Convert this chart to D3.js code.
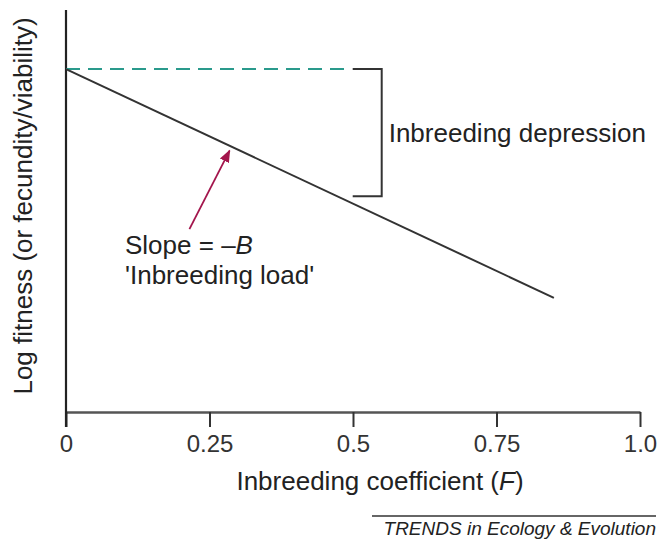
<!DOCTYPE html>
<html>
<head>
<meta charset="utf-8">
<script src="https://cdn.jsdelivr.net/npm/d3@7"></script>
<style>
body { margin: 0; background: #fff; }
text { font-family: "Liberation Sans", Arial, sans-serif; fill: #222; }
</style>
</head>
<body>
<svg id="chart" width="658" height="542"></svg>
<script>
// data
var xTicks = [0, 0.25, 0.5, 0.75, 1.0];
var xTickLabels = ["0", "0.25", "0.5", "0.75", "1.0"];
var lineF = [0, 0.85];
var lineFit = [0.853, 0.284];
var baseFit = 0.853;          // outbred fitness (dashed line)
var dashEndF = 0.487;
var bracketF = 0.55;
var bracketLow = 0.537;
var arrowFrom = [0.215, 0.455];
var arrowTo = [0.285, 0.65];

var svg = d3.select("#chart");
var x = d3.scaleLinear().domain([0, 1]).range([66, 640]);
var y = d3.scaleLinear().domain([0, 1]).range([412, 10]);

svg.append("defs").append("marker")
  .attr("id", "head")
  .attr("viewBox", "0 0 10 10")
  .attr("refX", 9).attr("refY", 5)
  .attr("markerWidth", 7).attr("markerHeight", 7)
  .attr("orient", "auto")
  .append("path").attr("d", "M0,1 L10,5 L0,9 z").style("fill", "#a3154c");

// x axis
var xAxis = d3.axisBottom(x).tickValues(xTicks)
  .tickFormat(function(d, i) { return xTickLabels[i]; })
  .tickSize(15).tickPadding(8).tickSizeOuter(0);
var gx = svg.append("g").attr("transform", "translate(0," + y(0) + ")").call(xAxis);
gx.select(".domain").style("stroke", "#555").style("stroke-width", 2.5);
gx.selectAll(".tick line").style("stroke", "#333").style("stroke-width", 2);
gx.selectAll(".tick text").style("font-size", "24px").style("fill", "#333")
  .style("font-family", "'Liberation Sans', Arial, sans-serif");

// y axis (no ticks)
svg.append("line")
  .attr("x1", x(0)).attr("x2", x(0))
  .attr("y1", y(1)).attr("y2", y(0) + 15)
  .style("stroke", "#222").style("stroke-width", 2.2);

// dashed baseline
svg.append("line")
  .attr("x1", x(0)).attr("x2", x(dashEndF))
  .attr("y1", y(baseFit)).attr("y2", y(baseFit))
  .style("stroke", "#2a9a8c").style("stroke-width", 2)
  .style("stroke-dasharray", "14,8");

// fitness line
var line = d3.line().x(function(d) { return x(d[0]); }).y(function(d) { return y(d[1]); });
svg.append("path")
  .datum(d3.zip(lineF, lineFit))
  .attr("d", line)
  .style("fill", "none").style("stroke", "#333").style("stroke-width", 2);

// bracket
var bx = x(bracketF);
svg.append("path")
  .attr("d", "M" + (bx - 29) + "," + y(baseFit) + " H" + bx + " V" + y(bracketLow) + " H" + (bx - 29))
  .style("fill", "none").style("stroke", "#333").style("stroke-width", 2);
svg.append("text").attr("x", bx + 7).attr("y", y((baseFit + bracketLow) / 2) + 9)
  .style("font-size", "26px").text("Inbreeding depression");

// arrow
svg.append("line")
  .attr("x1", x(arrowFrom[0])).attr("y1", y(arrowFrom[1]))
  .attr("x2", x(arrowTo[0])).attr("y2", y(arrowTo[1]))
  .style("stroke", "#a3154c").style("stroke-width", 1.8)
  .attr("marker-end", "url(#head)");

var lab = svg.append("text").attr("x", 125).attr("y", 254).style("font-size", "26px");
lab.append("tspan").text("Slope = \u2013");
lab.append("tspan").style("font-style", "italic").text("B");
svg.append("text").attr("x", 125).attr("y", 284).style("font-size", "26px").text("'Inbreeding load'");

// axis titles
var xt = svg.append("text").attr("x", 380).attr("y", 490).attr("text-anchor", "middle").style("font-size", "26px");
xt.append("tspan").text("Inbreeding coefficient (");
xt.append("tspan").style("font-style", "italic").text("F");
xt.append("tspan").text(")");

svg.append("text")
  .attr("transform", "translate(32,206) rotate(-90)")
  .attr("text-anchor", "middle").style("font-size", "26px")
  .text("Log fitness (or fecundity/viability)");

// source
svg.append("line").attr("x1", 372).attr("x2", 656).attr("y1", 516).attr("y2", 516)
  .style("stroke", "#333").style("stroke-width", 1.5);
svg.append("text").attr("x", 656).attr("y", 535).attr("text-anchor", "end")
  .style("font-size", "19px").style("font-style", "italic").text("TRENDS in Ecology & Evolution");
</script>
</body>
</html>
